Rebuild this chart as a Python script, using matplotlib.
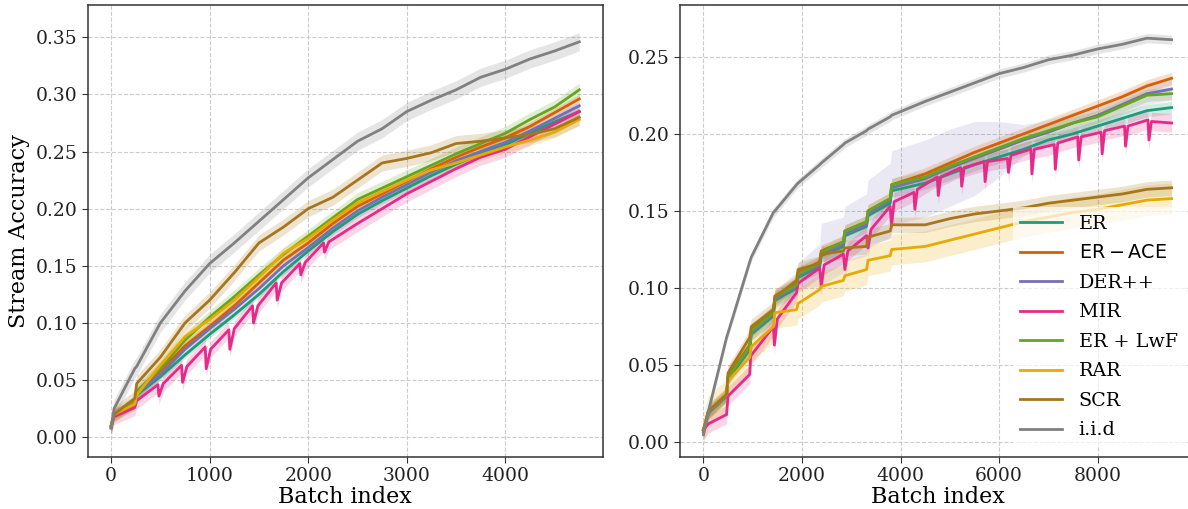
import matplotlib
matplotlib.use("Agg")
import matplotlib.pyplot as plt
import numpy as np

LABELS = ["ER", r"$\mathrm{ER-ACE}$", "DER++", "MIR", "ER + LwF", "RAR", "SCR", "i.i.d"]
COLORS = ["#1b9e77", "#d95f02", "#7570b3", "#e7298a", "#66a61e", "#e6ab02", "#a6761d", "#808080"]

# ---- left panel ----
L_X = [0, 30, 240, 260, 500, 750, 1000, 1250, 1500, 1750, 2000, 2250, 2500, 2750,
       3000, 3250, 3500, 3750, 4000, 4250, 4500, 4750]
ER_L = [0.010, 0.020, 0.029, 0.037, 0.053, 0.072, 0.090, 0.107, 0.125, 0.145, 0.163, 0.180, 0.195, 0.207,
        0.218, 0.229, 0.239, 0.248, 0.256, 0.266, 0.276, 0.285]
ACE_L = [0.010, 0.020, 0.030, 0.040, 0.058, 0.080, 0.097, 0.115, 0.135, 0.155, 0.170, 0.187, 0.202, 0.213,
         0.224, 0.235, 0.245, 0.254, 0.262, 0.272, 0.284, 0.296]
DER_L = [0.008, 0.020, 0.029, 0.038, 0.055, 0.077, 0.095, 0.112, 0.130, 0.150, 0.166, 0.183, 0.198, 0.210,
         0.221, 0.232, 0.242, 0.250, 0.258, 0.268, 0.279, 0.290]
LWF_L = [0.010, 0.020, 0.030, 0.040, 0.060, 0.085, 0.105, 0.123, 0.142, 0.160, 0.176, 0.192, 0.208, 0.218,
         0.228, 0.238, 0.248, 0.257, 0.266, 0.278, 0.289, 0.304]
RAR_L = [0.010, 0.020, 0.029, 0.037, 0.063, 0.088, 0.103, 0.120, 0.140, 0.161, 0.174, 0.190, 0.205, 0.215,
         0.225, 0.234, 0.240, 0.247, 0.254, 0.260, 0.267, 0.278]
SCR_L = [0.009, 0.020, 0.034, 0.047, 0.070, 0.100, 0.120, 0.144, 0.170, 0.184, 0.200, 0.210, 0.225, 0.240,
         0.244, 0.249, 0.257, 0.259, 0.262, 0.265, 0.270, 0.280]
IID_L = [0.008, 0.025, 0.060, 0.062, 0.100, 0.128, 0.152, 0.170, 0.189, 0.208, 0.227, 0.243, 0.259, 0.270,
         0.285, 0.295, 0.304, 0.315, 0.322, 0.331, 0.338, 0.346]
MIR_L_X = [0, 30, 240, 260, 475, 485, 530, 715, 725, 770, 955, 965, 1010, 1195, 1205, 1250,
           1435, 1445, 1490, 1675, 1685, 1730, 1915, 1925, 1970, 2155, 2165, 2210,
           2500, 2750, 3000, 3250, 3500, 3750, 4000, 4250, 4500, 4750]
MIR_L = [0.010, 0.018, 0.026, 0.032, 0.046, 0.036, 0.047, 0.063, 0.048, 0.062, 0.079, 0.060, 0.077,
         0.094, 0.077, 0.095, 0.115, 0.100, 0.115, 0.135, 0.120, 0.135, 0.152, 0.142, 0.153,
         0.170, 0.162, 0.171, 0.187, 0.200, 0.213, 0.224, 0.235, 0.245, 0.252, 0.263, 0.274, 0.285]
BAND_L = [0.003, 0.004, 0.004, 0.007, 0.006, 0.005, 0.007, 0.008]

# ---- right panel ----
R_X = [0, 100, 470, 500, 940, 970, 1420, 1450, 1890, 1920, 2360, 2390, 2840, 2870, 3310, 3340,
       3790, 3820, 4500, 5000, 5500, 6000, 6500, 7000, 7500, 8000, 8500, 9000, 9500]
ER_R = [0.007, 0.019, 0.030, 0.041, 0.060, 0.070, 0.082, 0.092, 0.100, 0.107, 0.114, 0.121, 0.127, 0.134,
        0.140, 0.147, 0.155, 0.163, 0.168, 0.174, 0.180, 0.185, 0.190, 0.196, 0.200, 0.205, 0.210, 0.215, 0.217]
ACE_R = [0.008, 0.020, 0.031, 0.043, 0.063, 0.073, 0.085, 0.095, 0.103, 0.110, 0.117, 0.124, 0.130, 0.137,
         0.143, 0.150, 0.158, 0.167, 0.174, 0.181, 0.188, 0.194, 0.200, 0.206, 0.212, 0.218, 0.224, 0.231, 0.236]
DER_R = [0.007, 0.019, 0.030, 0.042, 0.061, 0.071, 0.083, 0.093, 0.101, 0.108, 0.115, 0.122, 0.128, 0.135,
         0.141, 0.148, 0.157, 0.165, 0.171, 0.178, 0.184, 0.190, 0.196, 0.201, 0.207, 0.212, 0.219, 0.226, 0.229]
LWF_R = [0.008, 0.020, 0.031, 0.042, 0.062, 0.072, 0.084, 0.094, 0.102, 0.109, 0.116, 0.123, 0.130, 0.137,
         0.143, 0.150, 0.158, 0.167, 0.172, 0.179, 0.185, 0.191, 0.197, 0.202, 0.207, 0.211, 0.218, 0.225, 0.226]
RAR_R = [0.008, 0.020, 0.031, 0.040, 0.055, 0.062, 0.075, 0.084, 0.086, 0.090, 0.099, 0.101, 0.105, 0.108,
         0.112, 0.118, 0.121, 0.125, 0.127, 0.131, 0.135, 0.139, 0.143, 0.146, 0.149, 0.151, 0.154, 0.157, 0.158]
SCR_R = [0.008, 0.020, 0.031, 0.045, 0.068, 0.075, 0.086, 0.094, 0.105, 0.112, 0.116, 0.122, 0.124, 0.126,
         0.127, 0.133, 0.137, 0.141, 0.141, 0.145, 0.148, 0.150, 0.152, 0.155, 0.157, 0.159, 0.161, 0.164, 0.165]
IID_R = [0.005, 0.020, 0.068, 0.071, 0.117, 0.120, 0.149, 0.150, 0.167, 0.168, 0.180, 0.181, 0.193, 0.194,
         0.202, 0.203, 0.211, 0.212, 0.221, 0.227, 0.233, 0.239, 0.243, 0.248, 0.251, 0.255, 0.258, 0.262, 0.261]
MIR_R_X = [0, 100, 470, 500, 940, 960, 1420, 1440, 1500, 1890, 1920, 2360, 2390, 2450,
           2840, 2870, 2930, 3310, 3340, 3400, 3790, 3815, 3870, 4270, 4290, 4340,
           4745, 4765, 4815, 5220, 5240, 5290, 5695, 5715, 5765, 6170, 6190, 6240,
           6645, 6665, 6715, 7120, 7140, 7190, 7595, 7615, 7665, 8070, 8090, 8140,
           8545, 8565, 8615, 9020, 9040, 9090, 9500]
MIR_R = [0.008, 0.012, 0.018, 0.030, 0.044, 0.056, 0.075, 0.063, 0.080, 0.097, 0.103, 0.113, 0.101, 0.115,
         0.122, 0.112, 0.124, 0.134, 0.126, 0.138, 0.153, 0.140, 0.156, 0.162, 0.151, 0.164,
         0.172, 0.160, 0.172, 0.178, 0.166, 0.178, 0.182, 0.169, 0.182, 0.184, 0.175, 0.186,
         0.190, 0.174, 0.190, 0.193, 0.177, 0.194, 0.198, 0.183, 0.198, 0.201, 0.187, 0.202,
         0.205, 0.192, 0.205, 0.209, 0.196, 0.208, 0.207]
BAND_R = [0.004, 0.004, None, 0.006, 0.004, 0.010, 0.005, 0.003]
DER_R_BAND = [0.001, 0.002, 0.003, 0.004, 0.005, 0.005, 0.006, 0.006, 0.007, 0.008, 0.014, 0.020, 0.018, 0.018,
              0.020, 0.022, 0.024, 0.024, 0.025, 0.025, 0.024, 0.018, 0.010, 0.008, 0.007, 0.007, 0.007, 0.007, 0.007]

plt.rcParams["font.family"] = "DejaVu Serif"
plt.rcParams["mathtext.fontset"] = "dejavusans"

fig = plt.figure(figsize=(11.88, 5.09), dpi=100)
ax_l = fig.add_axes([0.0738, 0.1028, 0.4335, 0.888])
ax_r = fig.add_axes([0.5724, 0.1028, 0.4335, 0.888])


def draw(ax, xs, ys, bands, band_alpha):
    for x, y, b, c, lab, a in zip(xs, ys, bands, COLORS, LABELS, band_alpha):
        x = np.asarray(x)
        y = np.asarray(y)
        b = np.asarray(b)
        ax.fill_between(x, y - b, y + b, color=c, alpha=a, linewidth=0)
        ax.plot(x, y, color=c, lw=2.0, label=lab)
    ax.grid(True, ls="--", color="#cccccc", lw=0.8)
    ax.set_axisbelow(True)
    for s in ax.spines.values():
        s.set_color("#333333")
        s.set_linewidth(1.1)
    ax.tick_params(labelsize=13.5, length=4, color="#333333", labelcolor="#222222")
    ax.set_xlabel("Batch index", fontsize=16, labelpad=1)


draw(ax_l,
     [L_X, L_X, L_X, MIR_L_X, L_X, L_X, L_X, L_X],
     [ER_L, ACE_L, DER_L, MIR_L, LWF_L, RAR_L, SCR_L, IID_L],
     BAND_L, [0.2] * 8)
ax_l.set_xlim(-237.5, 4987.5)
ax_l.set_ylim(-0.017, 0.3785)
ax_l.set_xticks([0, 1000, 2000, 3000, 4000])
ax_l.set_yticks(np.arange(0, 0.36, 0.05))
ax_l.set_ylabel("Stream Accuracy", fontsize=16)

bands_r = list(BAND_R)
bands_r[2] = DER_R_BAND
draw(ax_r,
     [R_X, R_X, R_X, MIR_R_X, R_X, R_X, R_X, R_X],
     [ER_R, ACE_R, DER_R, MIR_R, LWF_R, RAR_R, SCR_R, IID_R],
     bands_r, [0.2, 0.2, 0.15, 0.2, 0.2, 0.2, 0.2, 0.2])
ax_r.set_xlim(-475, 9975)
ax_r.set_ylim(-0.0093, 0.2837)
ax_r.set_xticks([0, 2000, 4000, 6000, 8000])
ax_r.set_yticks(np.arange(0, 0.26, 0.05))
leg = ax_r.legend(loc="lower right", fontsize=13.8, frameon=True, framealpha=0.7,
                  edgecolor="none", facecolor="white", fancybox=False,
                  labelspacing=0.6, handlelength=2.2, handletextpad=0.85)

fig.savefig("out.png", dpi=100)
